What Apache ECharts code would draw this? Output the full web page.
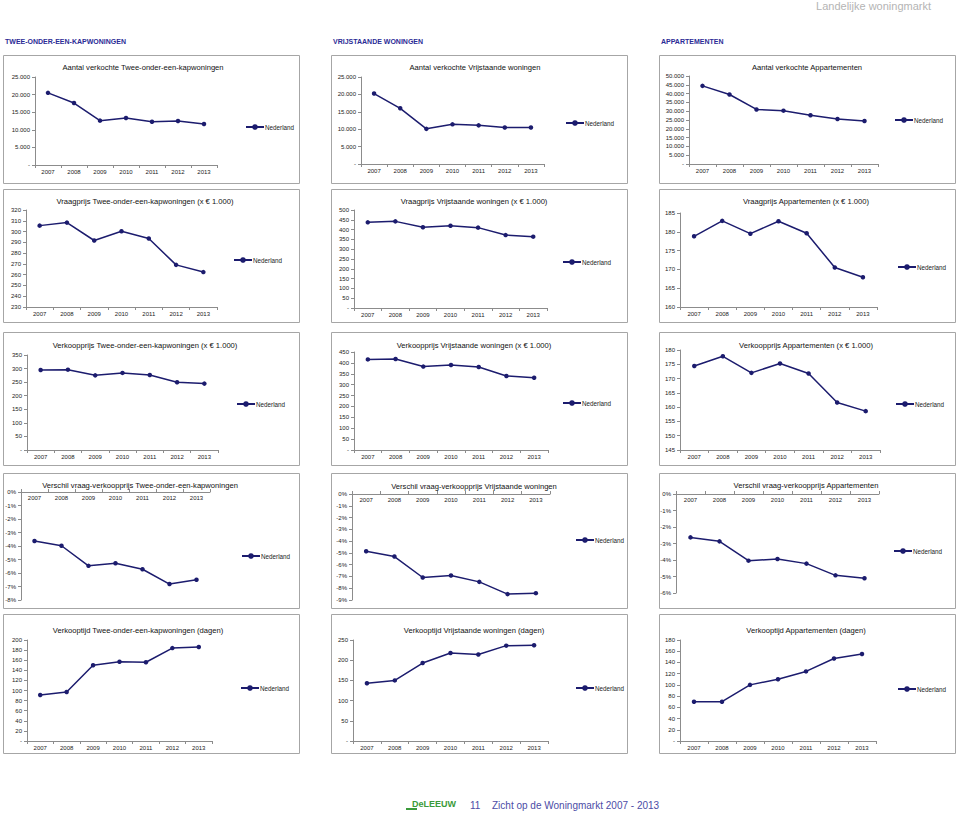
<!DOCTYPE html>
<html><head><meta charset="utf-8">
<script src="https://cdn.jsdelivr.net/npm/echarts@6/dist/echarts.min.js"></script>
<style>html,body{margin:0;padding:0;background:#fff}#c{width:960px;height:814px}</style>
</head><body><div id="c"></div>
<script>
// ---------- data ----------
const years = ['2007','2008','2009','2010','2011','2012','2013'];
const seriesName = 'Nederland';
const headings = ['TWEE-ONDER-EEN-KAPWONINGEN','VRIJSTAANDE WONINGEN','APPARTEMENTEN'];
const titles = [
  'Aantal verkochte Twee-onder-een-kapwoningen','Aantal verkochte Vrijstaande woningen','Aantal verkochte Appartementen',
  'Vraagprijs Twee-onder-een-kapwoningen (x € 1.000)','Vraagprijs Vrijstaande woningen (x € 1.000)','Vraagprijs Appartementen (x € 1.000)',
  'Verkoopprijs Twee-onder-een-kapwoningen (x € 1.000)','Verkoopprijs Vrijstaande woningen (x € 1.000)','Verkoopprijs Appartementen (x € 1.000)',
  'Verschil vraag-verkoopprijs Twee-onder-een-kapwoningen','Verschil vraag-verkoopprijs Vrijstaande woningen','Verschil vraag-verkoopprijs Appartementen',
  'Verkooptijd Twee-onder-een-kapwoningen (dagen)','Verkooptijd Vrijstaande woningen (dagen)','Verkooptijd Appartementen (dagen)'
];
const aantalTwee   = [20500, 17600, 12600, 13350, 12300, 12500, 11650];
const aantalVrij   = [20250, 16000, 10100, 11400, 11100, 10500, 10500];
const aantalApp    = [44400, 39500, 31000, 30300, 27700, 25600, 24400];
const vraagTwee    = [305.5, 308.3, 291.7, 300.3, 293.5, 269.1, 262.4];
const vraagVrij    = [437, 442, 412, 420, 410, 372, 364];
const vraagApp     = [178.8, 182.9, 179.5, 182.8, 179.6, 170.5, 167.9];
const verkoopTwee  = [295, 296, 275, 284, 276.5, 249.5, 244.6];
const verkoopVrij  = [416, 418, 383, 390, 381, 340, 332];
const verkoopApp   = [174.4, 177.8, 172.0, 175.3, 171.8, 161.6, 158.6];
const verschilTwee = [-3.63, -3.98, -5.47, -5.28, -5.72, -6.82, -6.50];
const verschilVrij = [-4.86, -5.31, -7.09, -6.92, -7.46, -8.50, -8.42];
const verschilApp  = [-2.63, -2.87, -4.04, -3.94, -4.22, -4.93, -5.11];
const tijdTwee     = [91, 97, 150, 157, 156, 184, 186];
const tijdVrij     = [143, 150, 193, 218, 214, 236, 237];
const tijdApp      = [70, 70, 100, 110, 124, 147, 155];
// y-axis tick ranges [min, max, step] per panel
const yMin  = [0, 0, 0,   230, 0, 160,   0, 0, 145,   -8, -9, -6,   0, 0, 0];
const yMax  = [25000, 25000, 50000,   320, 500, 185,   350, 450, 180,   0, 0, 0,   200, 250, 180];
const yStep = [5000, 5000, 5000,   10, 50, 5,   50, 50, 5,   1, 1, 1,   20, 50, 20];
const yFmt  = ['thou','thou','thou','plain','plain','plain','plain','plain','plain','pct','pct','pct','plain','plain','plain'];
const allData = [aantalTwee, aantalVrij, aantalApp, vraagTwee, vraagVrij, vraagApp,
  verkoopTwee, verkoopVrij, verkoopApp, verschilTwee, verschilVrij, verschilApp, tijdTwee, tijdVrij, tijdApp];

// ---------- layout ----------
const grids = [
  [35,77,182,88],[361,77,183,87],[689,76,189,88],
  [26,210,191,97],[354,210,193,98],[680,213,197,94],
  [27,355,191,95],[354,352,194,98],[680,350,200,100],
  [21,492,189,108],[352,494,198,106],[676,494,203,99],
  [27,640,185,101],[353,640,195,101],[680,640,196,101]
];
const titlePos = [
  [143,67],[475,67],[807,67],
  [145,201],[474,201],[806,201],
  [145,345],[474,345],[806,345],
  [140,485],[474,486],[806,485],
  [138,630],[474,630],[806,630]
];
const legendPos = [
  [245,128],[565,124],[894,121],
  [233,261],[562,263],[897,268],
  [236,405],[562,404],[895,405],
  [241,557],[575,541],[893,552],
  [240,689],[575,689],[897,690]
];
const rowsY = [[55,183],[189,322],[332,465],[473,608],[614,753]];
const colsX = [[3,299],[331,627],[659,955]];

const LINE = '#1c1c6e';
const FONT = 'Liberation Sans, Arial, sans-serif';
function fmt(kind, v){
  if (kind === 'pct') return v + '%';
  if (v === 0) return '-';
  if (kind === 'thou') return String(v).replace(/\B(?=(\d{3})+(?!\d))/g, '.');
  return String(v);
}

const grid = [], xAxis = [], yAxis = [], series = [], legend = [], graphic = [];
for (let i = 0; i < 15; i++) {
  const g = grids[i];
  const isPct = yFmt[i] === 'pct';
  grid.push({left:g[0], top:g[1], width:g[2], height:g[3], containLabel:false});
  xAxis.push({
    type:'category', gridIndex:i, data:years, boundaryGap:true,
    position: isPct ? 'top' : 'bottom',
    axisLine:{show:true, onZero:false, lineStyle:{color:'#8c8c8c', width:1}},
    axisTick:{show:true, length:3, inside:false, lineStyle:{color:'#8c8c8c'}},
    axisLabel:{fontSize:6, color:'#222', fontFamily:FONT, margin: isPct ? 3 : 4, inside:isPct, interval:0},
    splitLine:{show:false}
  });
  yAxis.push({
    type:'value', gridIndex:i, min:yMin[i], max:yMax[i], interval:yStep[i],
    axisLine:{show:true, lineStyle:{color:'#8c8c8c', width:1}},
    axisTick:{show:true, length:3, lineStyle:{color:'#8c8c8c'}},
    axisLabel:{fontSize:6, color:'#222', fontFamily:FONT, margin:5, formatter:(v)=>fmt(yFmt[i], v)},
    splitLine:{show:false}
  });
  series.push({
    type:'line', name:seriesName, xAxisIndex:i, yAxisIndex:i, data:allData[i],
    symbol:'circle', symbolSize:4.5, showSymbol:true,
    lineStyle:{color:LINE, width:1.5}, itemStyle:{color:LINE},
    animation:false, silent:true
  });
  legend.push({
    data:[seriesName], left:legendPos[i][0], top:legendPos[i][1]-4, padding:0,
    itemWidth:18, itemHeight:7, selectedMode:false,
    textStyle:{fontSize:6.3, color:'#222', fontFamily:FONT, padding:[0,0,0,-4]}
  });
  graphic.push({type:'text', x:titlePos[i][0], y:titlePos[i][1], silent:true,
    style:{text:titles[i], font:'7.6px ' + FONT, fill:'#111', textAlign:'center', textVerticalAlign:'middle'}});
}
rowsY.forEach(r => colsX.forEach(c => {
  graphic.push({type:'rect', silent:true, shape:{x:c[0]+0.5, y:r[0]+0.5, width:c[1]-c[0], height:r[1]-r[0]},
    style:{fill:'none', stroke:'#a6a6a6', lineWidth:1}});
}));
const headX = [5, 333, 661];
headings.forEach((h, k) => graphic.push({type:'text', x:headX[k], y:41, silent:true,
  style:{text:h, font:'bold 7px ' + FONT, fill:'#2b2b96', textVerticalAlign:'middle'}}));
graphic.push({type:'text', x:931, y:6, silent:true,
  style:{text:'Landelijke woningmarkt', font:'11px ' + FONT, fill:'#b4b4b4', textAlign:'right', textVerticalAlign:'middle'}});
graphic.push({type:'rect', silent:true, shape:{x:406, y:808, width:11, height:2}, style:{fill:'#3a9a3a'}});
graphic.push({type:'text', x:412, y:804, silent:true,
  style:{text:'DeLEEUW', font:'bold 9px ' + FONT, fill:'#3a9a3a', textVerticalAlign:'middle'}});
graphic.push({type:'text', x:470, y:805, silent:true,
  style:{text:'11', font:'10px ' + FONT, fill:'#4c4ca6', textVerticalAlign:'middle'}});
graphic.push({type:'text', x:492, y:805, silent:true,
  style:{text:'Zicht op de Woningmarkt 2007 - 2013', font:'10px ' + FONT, fill:'#4c4ca6', textVerticalAlign:'middle'}});

const chart = echarts.init(document.getElementById('c'), null, {renderer:'svg', width:960, height:814});
chart.setOption({backgroundColor:'#fff', animation:false, grid, xAxis, yAxis, series, legend, graphic});
</script></body></html>
